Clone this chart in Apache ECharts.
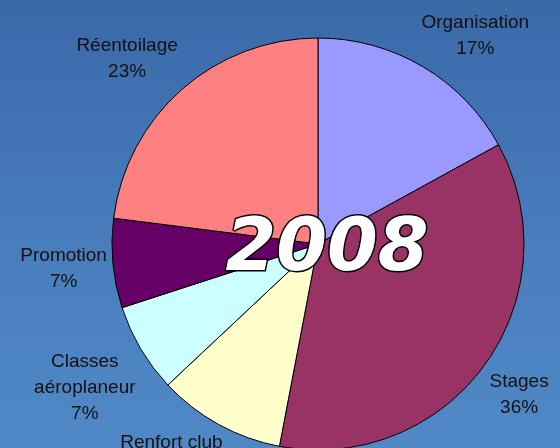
<!DOCTYPE html>
<html>
<head>
<meta charset="utf-8">
<script src="https://cdn.jsdelivr.net/npm/echarts@6/dist/echarts.min.js"></script>
<style>
  html, body {margin: 0; padding: 0;}
  #main {width: 560px; height: 448px; background: linear-gradient(180deg, #3a69a8 0%, #4a7fbe 60%, #5088c6 100%);}
</style>
</head>
<body>
<div id="main"></div>
<script>
  // données
  const categories = ['Organisation', 'Stages', 'Renfort club', 'Classes aéroplaneur', 'Promotion', 'Réentoilage'];
  const percents = [17, 36, 10, 7, 7, 23];
  const sliceColors = ['#9999ff', '#993366', '#ffffcc', '#ccffff', '#660066', '#ff8080'];
  const yearLabel = '2008';

  const CX = 318, CY = 244, R = 206;
  const total = percents.reduce((a, b) => a + b, 0);

  const chart = echarts.init(document.getElementById('main'), null, {renderer: 'canvas'});

  // étiquette posée à l'extérieur : le coin le plus proche du centre sur le rayon médian
  function placeLabel(params) {
    const i = params.dataIndex;
    let cum = 0;
    for (let k = 0; k < i; k++) cum += percents[k];
    const mid = (cum + percents[i] / 2) / total * Math.PI * 2;
    const ux = Math.sin(mid), uy = -Math.cos(mid);
    const w = params.labelRect.width, h = params.labelRect.height;
    const f = v => Math.max(-1, Math.min(1, v * 1.8));
    const D = R + 6;
    const x = CX + ux * D + f(ux) * w / 2;
    const y = CY + uy * D + f(uy) * h / 2;
    return {x: x, y: y, align: 'center', verticalAlign: 'middle'};
  }

  chart.setOption({
    animation: false,
    graphic: [{
      type: 'text',
      z: 100,
      x: 327,
      y: 251,
      style: {
        text: yearLabel,
        align: 'center',
        verticalAlign: 'middle',
        fill: '#fff',
        stroke: '#000',
        lineWidth: 3,
        font: 'italic bold 73px "DejaVu Sans"'
      }
    }],
    series: [{
      type: 'pie',
      center: [CX, CY],
      radius: R,
      startAngle: 90,
      clockwise: true,
      avoidLabelOverlap: false,
      itemStyle: {borderColor: '#000', borderWidth: 1},
      emphasis: {disabled: true},
      label: {
        show: true,
        position: 'outside',
        color: '#111',
        fontFamily: 'Liberation Sans',
        fontSize: 19,
        lineHeight: 26,
        align: 'center',
        formatter: function (p) {
          const name = p.name.length > 14 ? p.name.replace(' ', '\n') : p.name;
          return name + '\n' + p.value + '%';
        }
      },
      labelLine: {show: false},
      labelLayout: placeLabel,
      data: categories.map((c, i) => ({name: c, value: percents[i], itemStyle: {color: sliceColors[i]}}))
    }]
  });
</script>
</body>
</html>
